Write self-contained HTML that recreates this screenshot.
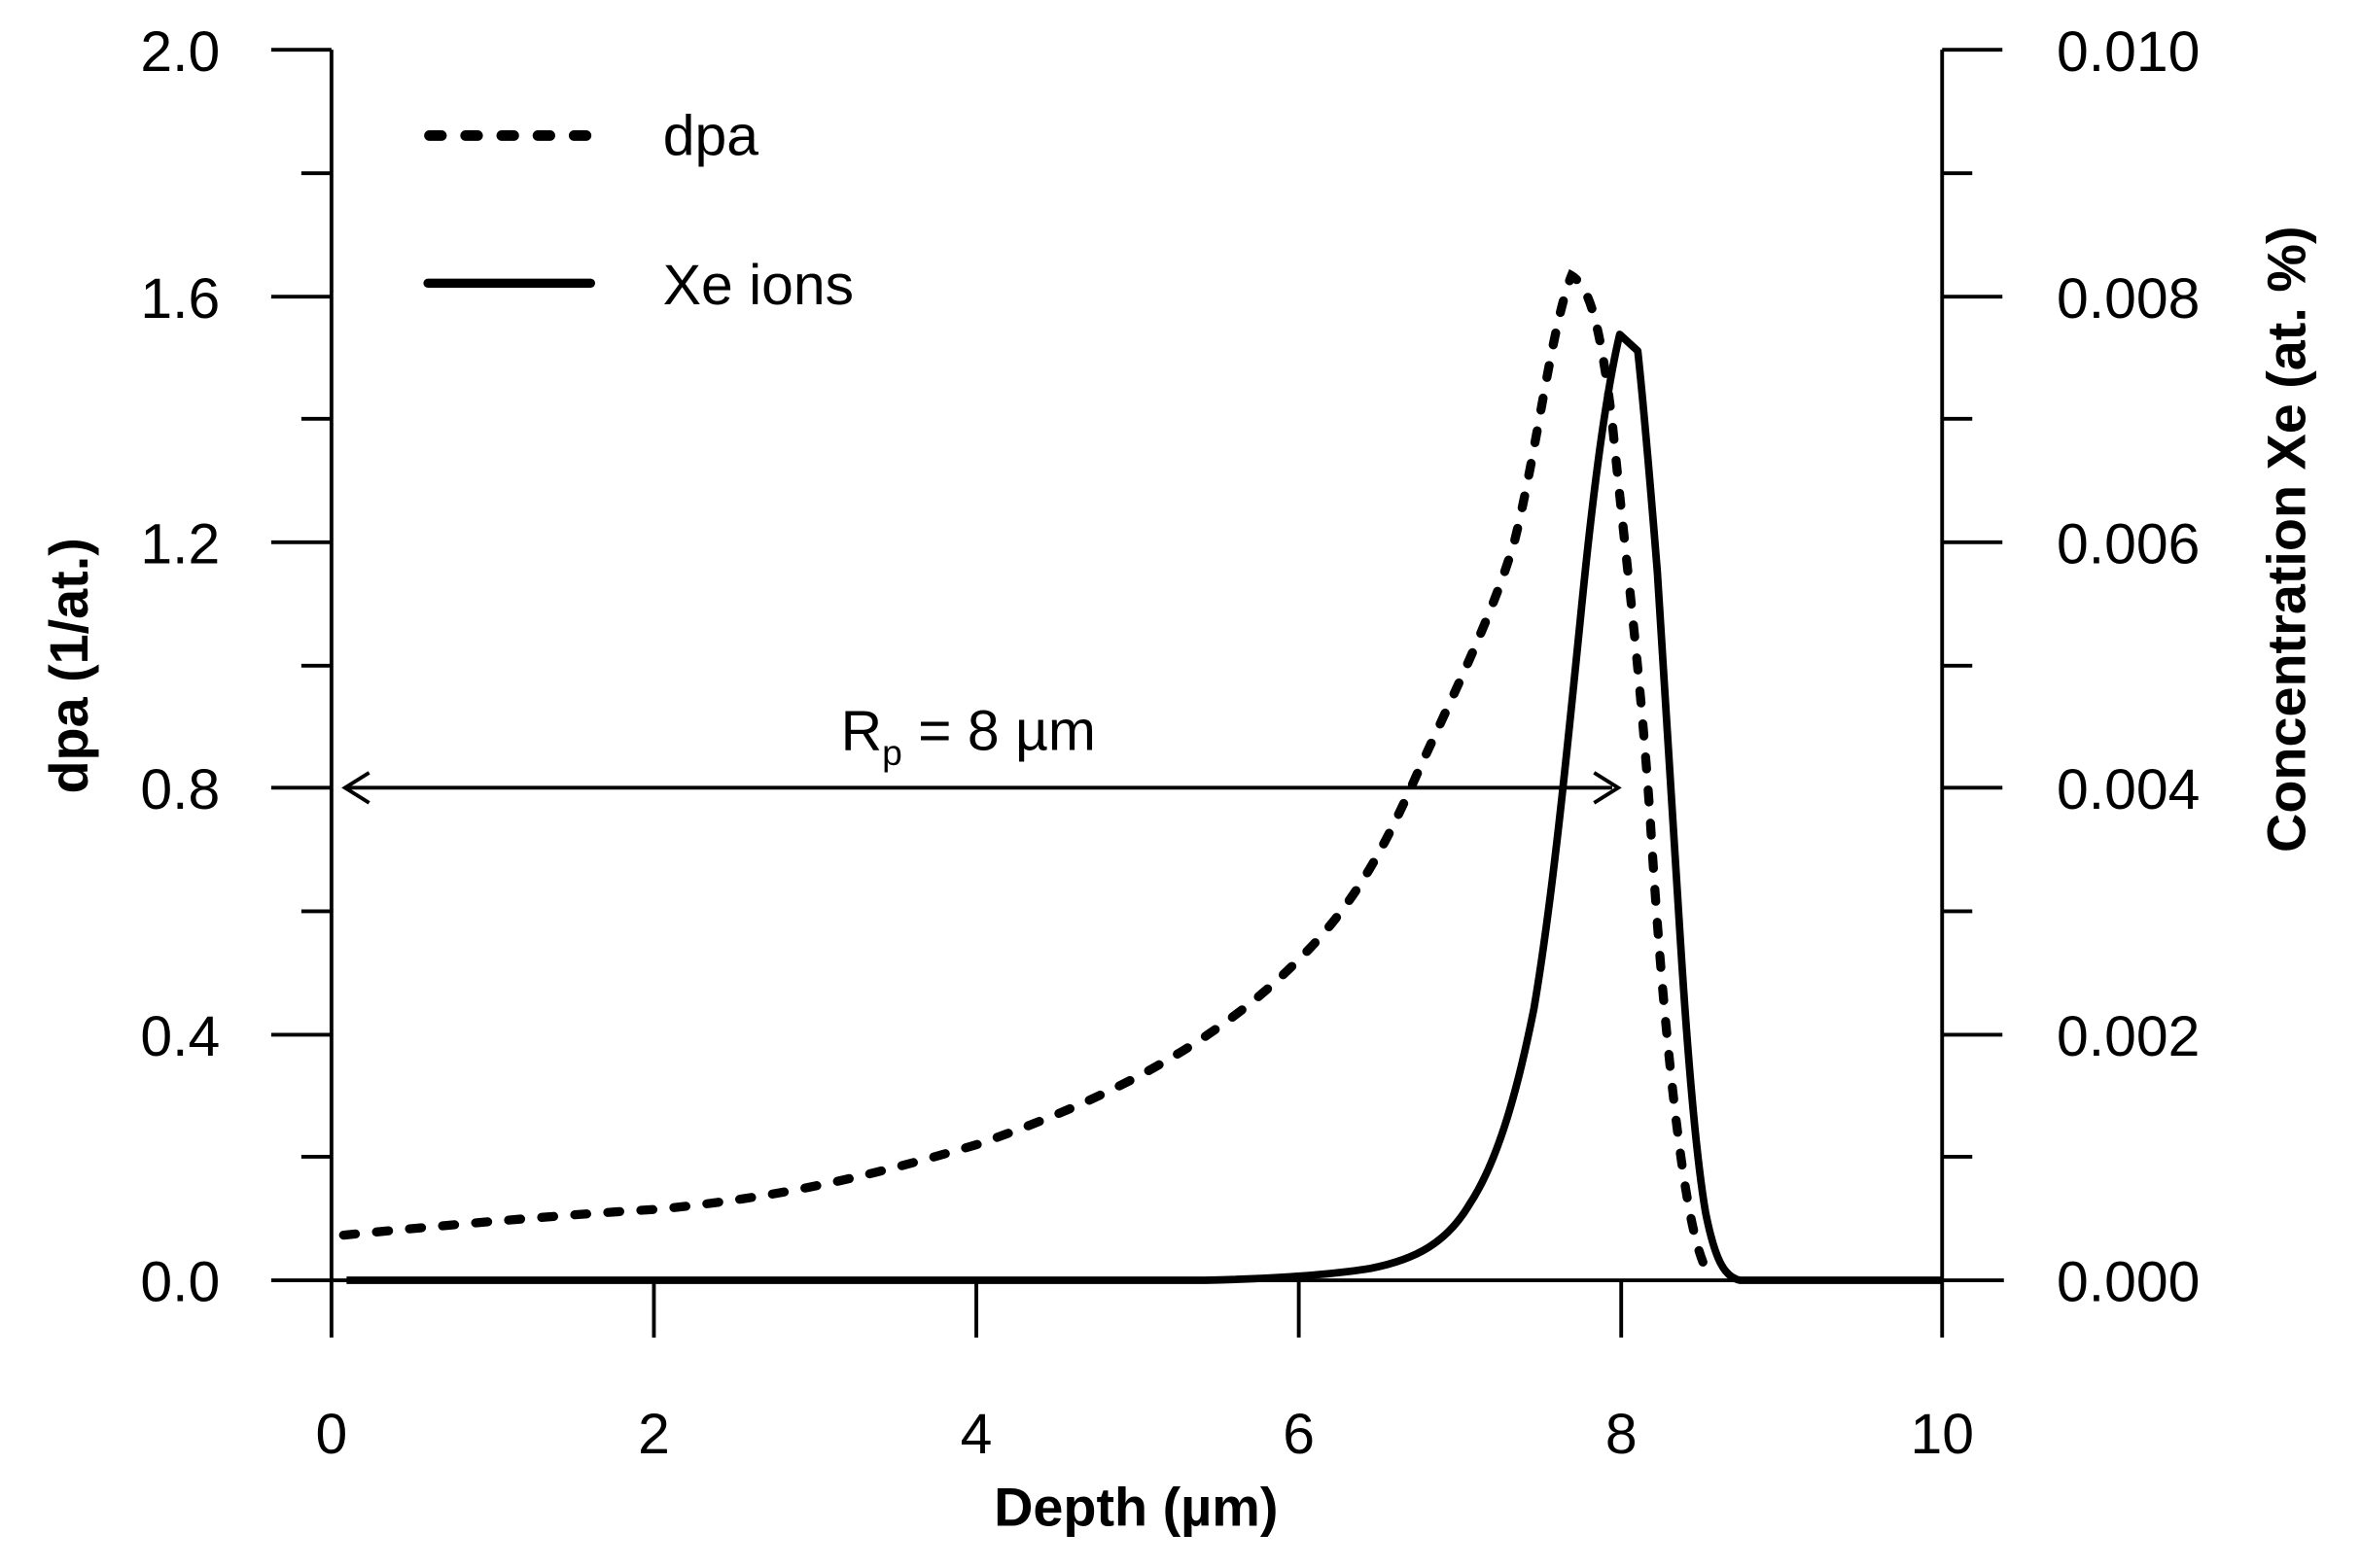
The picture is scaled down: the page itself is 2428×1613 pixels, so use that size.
<!DOCTYPE html>
<html><head><meta charset="utf-8"><style>
html,body{margin:0;padding:0;background:#fff;}
svg{display:block;}
text{font-family:"Liberation Sans",Arial,sans-serif;fill:#000;}
</style></head><body>
<svg width="2428" height="1613" viewBox="0 0 1567 1041" preserveAspectRatio="none" xmlns="http://www.w3.org/2000/svg">
<g stroke="#000" stroke-width="2.5" fill="none">
<line x1="220" y1="33" x2="220" y2="888"/>
<line x1="1289" y1="33" x2="1289" y2="888"/>
<line x1="180" y1="850" x2="1330" y2="850"/>
<line x1="180" y1="33" x2="220" y2="33"/>
<line x1="200" y1="115" x2="220" y2="115"/>
<line x1="180" y1="197" x2="220" y2="197"/>
<line x1="200" y1="278" x2="220" y2="278"/>
<line x1="180" y1="360" x2="220" y2="360"/>
<line x1="200" y1="442" x2="220" y2="442"/>
<line x1="180" y1="523" x2="220" y2="523"/>
<line x1="200" y1="605" x2="220" y2="605"/>
<line x1="180" y1="687" x2="220" y2="687"/>
<line x1="200" y1="768" x2="220" y2="768"/>
<line x1="1289" y1="33" x2="1329" y2="33"/>
<line x1="1289" y1="115" x2="1309" y2="115"/>
<line x1="1289" y1="197" x2="1329" y2="197"/>
<line x1="1289" y1="278" x2="1309" y2="278"/>
<line x1="1289" y1="360" x2="1329" y2="360"/>
<line x1="1289" y1="442" x2="1309" y2="442"/>
<line x1="1289" y1="523" x2="1329" y2="523"/>
<line x1="1289" y1="605" x2="1309" y2="605"/>
<line x1="1289" y1="687" x2="1329" y2="687"/>
<line x1="1289" y1="768" x2="1309" y2="768"/>
<line x1="434" y1="850" x2="434" y2="888"/>
<line x1="648" y1="850" x2="648" y2="888"/>
<line x1="862" y1="850" x2="862" y2="888"/>
<line x1="1076" y1="850" x2="1076" y2="888"/>
</g>
<g font-size="38" text-anchor="end">
<text x="146" y="47">2.0</text>
<text x="146" y="211">1.6</text>
<text x="146" y="374">1.2</text>
<text x="146" y="537">0.8</text>
<text x="146" y="701">0.4</text>
<text x="146" y="864">0.0</text>
</g>
<g font-size="38">
<text x="1365" y="47">0.010</text>
<text x="1365" y="211">0.008</text>
<text x="1365" y="374">0.006</text>
<text x="1365" y="537">0.004</text>
<text x="1365" y="701">0.002</text>
<text x="1365" y="864">0.000</text>
</g>
<g font-size="38" text-anchor="middle">
<text x="220" y="965">0</text>
<text x="434" y="965">2</text>
<text x="648" y="965">4</text>
<text x="862" y="965">6</text>
<text x="1076" y="965">8</text>
<text x="1289" y="965">10</text>
</g>
<text x="754" y="1013" font-size="36" font-weight="bold" text-anchor="middle">Depth (µm)</text>
<text transform="translate(58,442) rotate(-90)" font-size="36" font-weight="bold" text-anchor="middle">dpa (1/at.)</text>
<text transform="translate(1530,358) rotate(-90)" font-size="36" font-weight="bold" text-anchor="middle">Concentration Xe (at. %)</text>
<line x1="285" y1="90" x2="390" y2="90" stroke="#000" stroke-width="7" stroke-dasharray="8 16" stroke-linecap="round"/>
<text x="440" y="103" font-size="38">dpa</text>
<line x1="284" y1="188" x2="392" y2="188" stroke="#000" stroke-width="6" stroke-linecap="round"/>
<text x="440" y="202" font-size="38">Xe ions</text>
<line x1="230" y1="523" x2="1070" y2="523" stroke="#000" stroke-width="2.5"/>
<path d="M245 513 L229 523 L245 533 M1058 513 L1074 523 L1058 533" stroke="#000" stroke-width="2.5" fill="none"/>
<text x="558" y="498" font-size="38">R<tspan font-size="24" dy="10">p</tspan><tspan dy="-10"> = 8 µm</tspan></text>
<path d="M228 820 C300 813 380 806 434 803 C520 795 580 780 648 760 C720 735 800 700 862 637 C900 600 920 560 940 515 C965 460 990 410 1005 360 C1020 300 1030 215 1043 183 C1055 190 1062 215 1070 280 C1080 380 1088 440 1095 540 C1100 620 1105 680 1112 740 C1118 790 1124 825 1132 842" stroke="#000" stroke-width="6" fill="none" stroke-dasharray="8 14" stroke-linecap="round"/>
<path d="M230 850 L800 850 C840 849 880 847 910 842 C940 836 960 825 975 800 C995 770 1008 720 1018 670 C1030 600 1040 500 1050 400 C1058 320 1066 260 1075 222 L1087 233 C1092 280 1096 330 1100 380 C1105 450 1110 530 1115 620 C1120 700 1126 770 1132 805 C1138 835 1144 848 1155 850 L1289 850" stroke="#000" stroke-width="5" fill="none" stroke-linejoin="round"/>
</svg>
</body></html>
